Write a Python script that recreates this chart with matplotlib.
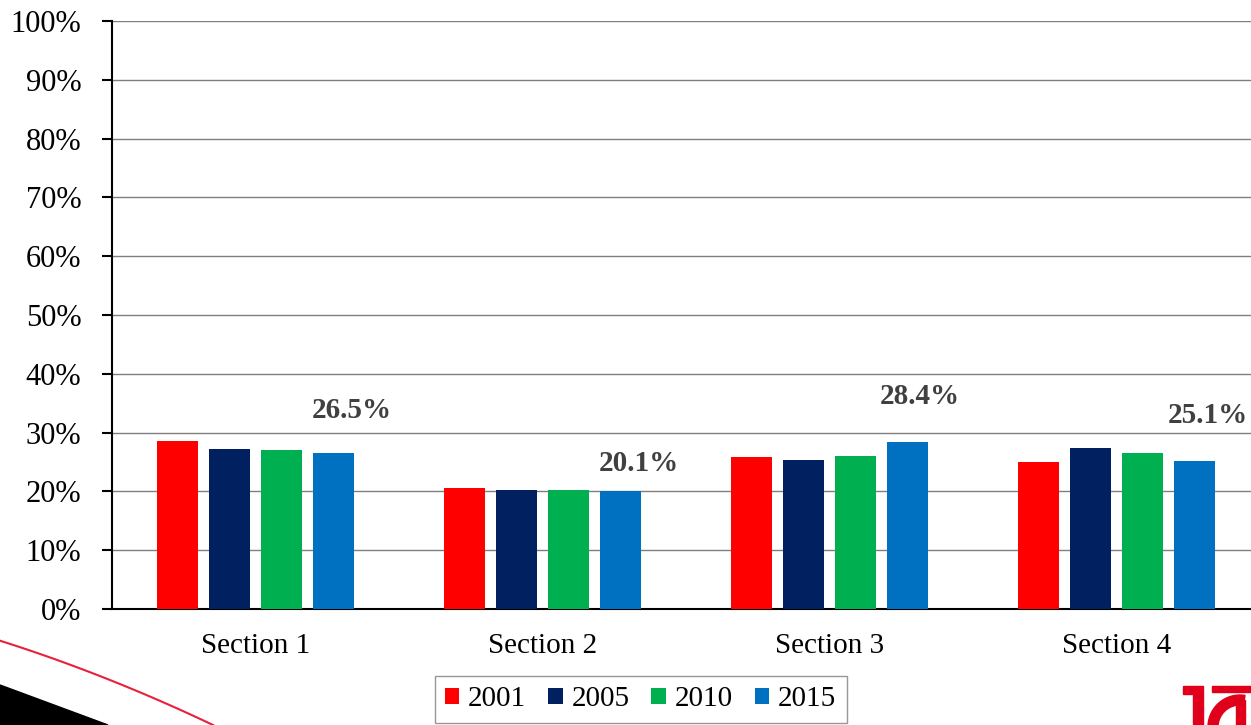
import numpy as np
import matplotlib
matplotlib.use('Agg')
import matplotlib.pyplot as plt
from matplotlib.patches import Polygon
from matplotlib.ticker import FuncFormatter

plt.rcParams['font.family'] = ['Liberation Serif', 'DejaVu Serif']

sections = ['Section 1', 'Section 2', 'Section 3', 'Section 4']
years = ['2001', '2005', '2010', '2015']
v2001 = [28.6, 20.5, 25.8, 25.0]
v2005 = [27.2, 20.2, 25.3, 27.3]
v2010 = [27.0, 20.2, 26.1, 26.6]
v2015 = [26.5, 20.1, 28.4, 25.1]
colors = ['#ff0000', '#002060', '#00b050', '#0070c0']

# label offsets (pixels) relative to top of 2015 bar
label_dx = [18, 18, 12, 13]
label_dy = [43, 27, 46, 46]

W, H = 1251, 725
fig = plt.figure(figsize=(W/100, H/100), dpi=100)

def fx(x):
    return x / W
def fy(y):
    return 1 - y / H

ax = fig.add_axes([fx(112), fy(609), (1260-112)/W, 588/H])

x = np.arange(len(sections))
step = 0.181
width = 0.143
series = [v2001, v2005, v2010, v2015]
for i, vals in enumerate(series):
    ax.bar(x + (i-1.5)*step, vals, width, color=colors[i], label=years[i], zorder=3)

for j in range(len(sections)):
    ax.annotate('%.1f%%' % v2015[j], (x[j] + 1.5*step, v2015[j]),
                xytext=(label_dx[j], label_dy[j]), textcoords='offset pixels',
                ha='center', va='center', fontsize=21, fontweight='bold', color='#404040')

ax.set_xlim(-0.5, 3.5)
ax.set_ylim(0, 100)
ax.set_yticks(np.arange(0, 101, 10))
ax.yaxis.set_major_formatter(FuncFormatter(lambda v, p: '%d%%' % v))
ax.set_xticks(x)
ax.set_xticklabels(sections)
ax.tick_params(axis='x', length=0, pad=17, labelsize=21)
ax.tick_params(axis='y', length=7, width=1.5, pad=15, labelsize=22, direction='out')
ax.yaxis.grid(True, color='#7f7f7f', linewidth=1)
ax.set_axisbelow(True)
for s in ['top', 'right']:
    ax.spines[s].set_visible(False)
ax.spines['left'].set_linewidth(1.5)
ax.spines['bottom'].set_linewidth(1.5)

leg = fig.legend(loc='center', bbox_to_anchor=(fx(640.5), fy(699.5)), ncol=4,
                 fontsize=21, handlelength=0.5, handleheight=0.5, handletextpad=0.3,
                 columnspacing=0.75, fancybox=False, edgecolor='#7f7f7f',
                 borderpad=0.35, borderaxespad=0)
leg.get_frame().set_linewidth(1)

# slide decorations bottom-left
t = np.linspace(0, 1, 50)
cx = 213 * t
cy = 640.7 + 84.3 * (0.8*t + 0.2*t**2)
fig.add_artist(plt.Line2D(fx(cx), fy(cy), color='#e8203a', linewidth=1.5, transform=fig.transFigure))
fig.add_artist(Polygon([(fx(0), fy(685)), (fx(108), fy(725)), (fx(0), fy(725))],
                       closed=True, color='black', transform=fig.transFigure))

# logo fragment bottom-right
red = '#e0001b'
logo = [
    [(1183, 686), (1203, 686), (1203, 725), (1193, 725), (1193, 694), (1183, 694)],
    [(1212, 686), (1251, 686), (1251, 692), (1212, 692)],
]
for pts in logo:
    fig.add_artist(Polygon([(fx(a), fy(b)) for a, b in pts], closed=True,
                           color=red, transform=fig.transFigure))
th = np.linspace(np.pi, np.pi*0.45, 30)
outer = [(1240 + 32*np.cos(a), 727 - 32*np.sin(a)) for a in th]
inner = [(1240 + 22*np.cos(a), 727 - 22*np.sin(a)) for a in th[::-1]]
fig.add_artist(Polygon([(fx(a), fy(b)) for a, b in outer + inner], closed=True,
                       color=red, transform=fig.transFigure))
fig.add_artist(Polygon([(fx(a), fy(b)) for a, b in [(1236, 700), (1245, 700), (1245, 725), (1236, 725)]],
                       closed=True, color=red, transform=fig.transFigure))

fig.savefig('out.png', dpi=100)
